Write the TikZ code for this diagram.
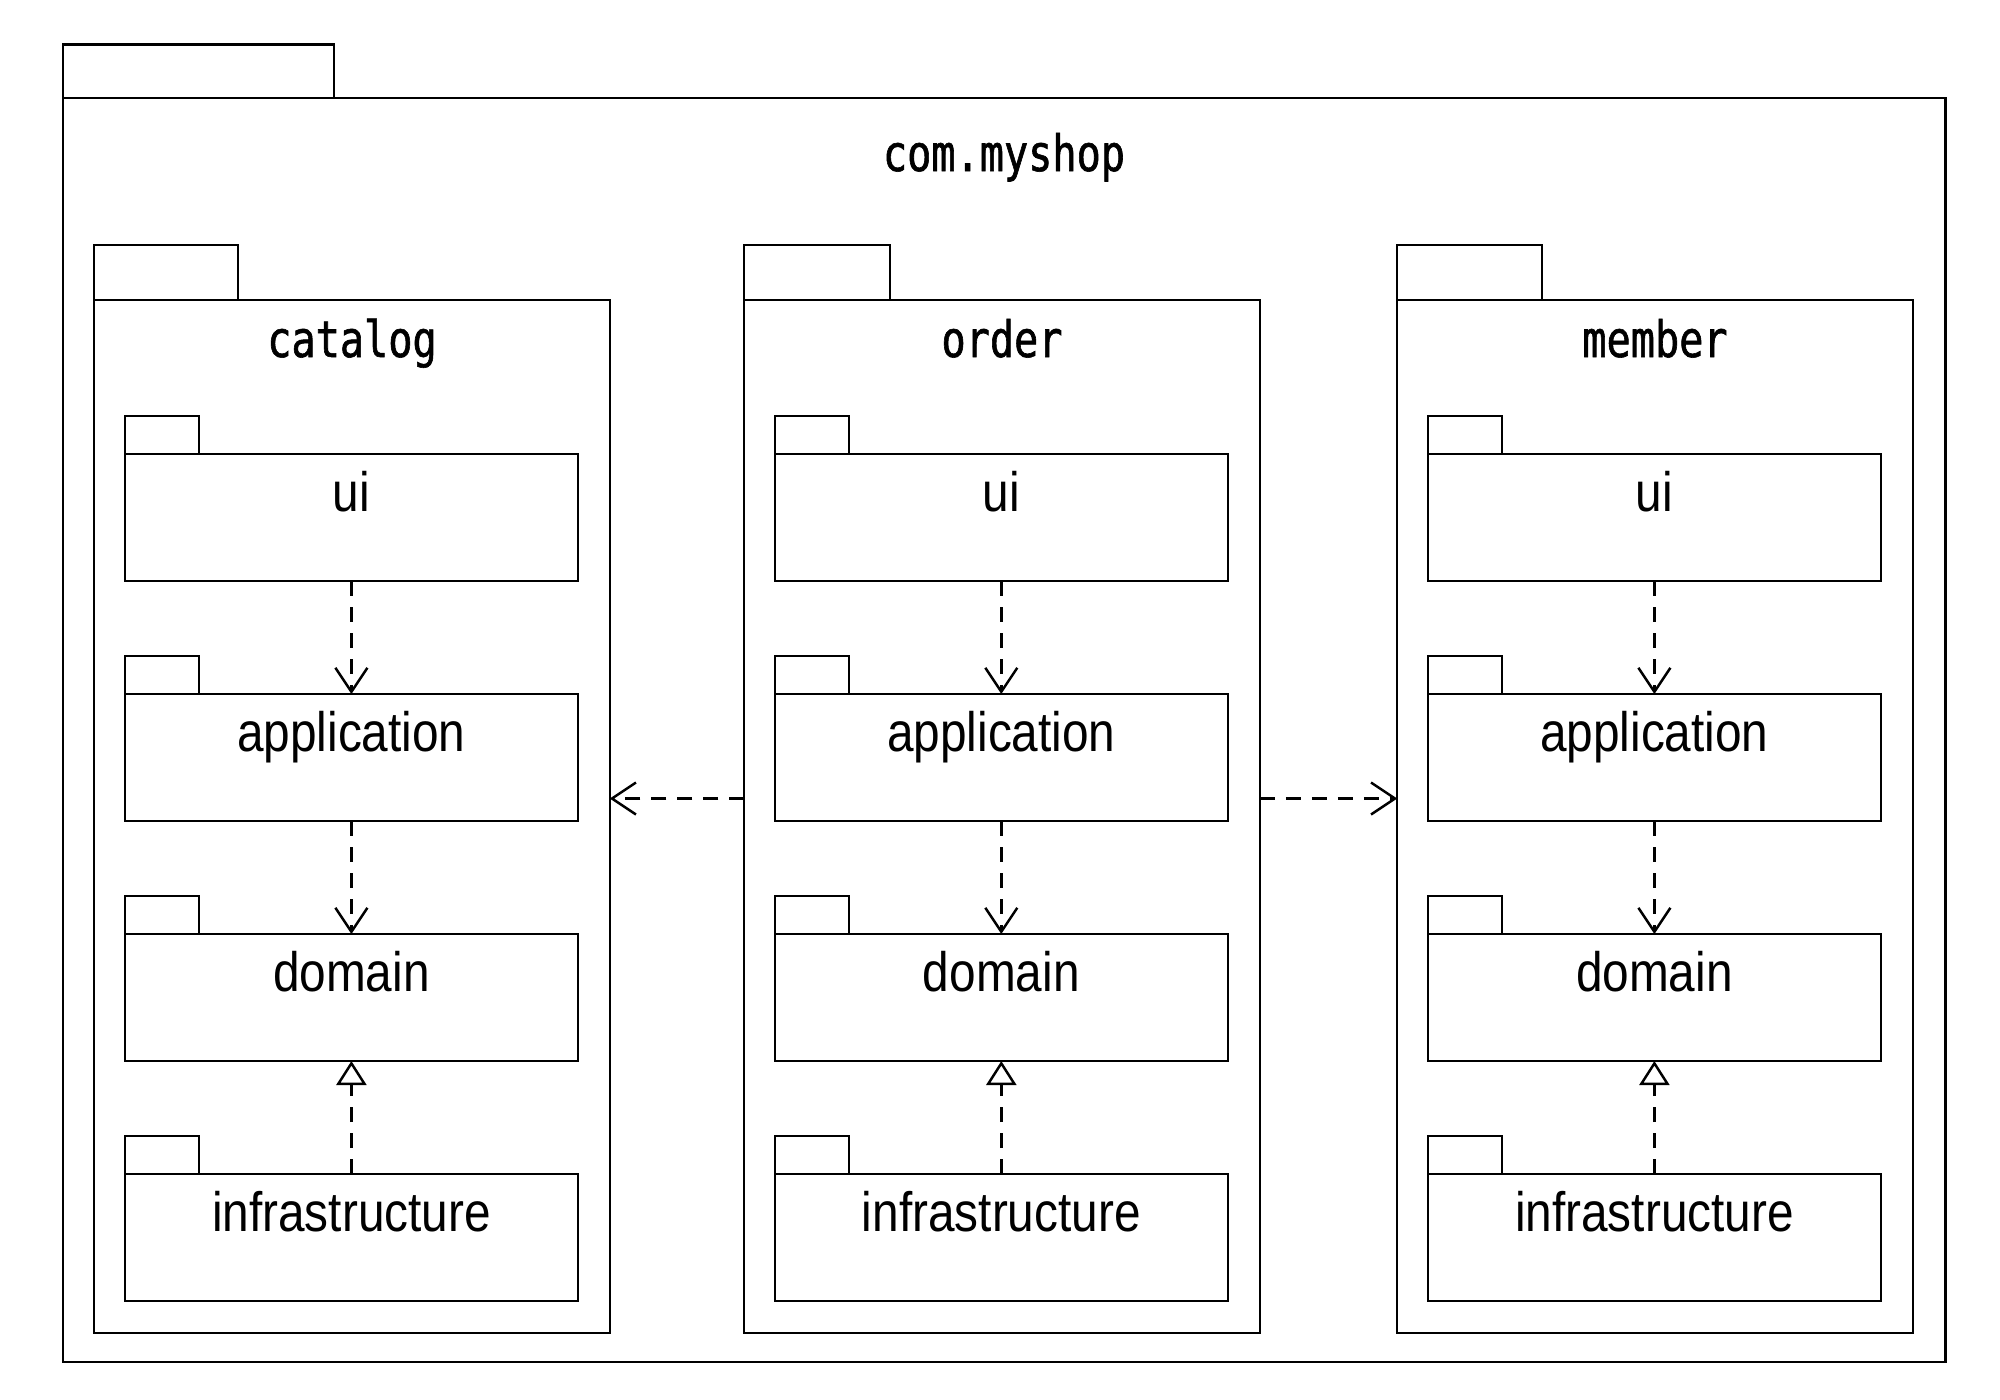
\documentclass[tikz,border=0pt]{standalone}
\usepackage{fontspec}
\usepackage{tikz}
\usetikzlibrary{positioning,arrows.meta}
\newfontfamily\layerfont[FakeStretch=0.86]{Liberation Sans}
\newfontfamily\modfont[FakeStretch=0.8,FakeBold=1.2]{DejaVu Sans Mono}

\begin{document}
\begin{tikzpicture}[
line width=0.7pt,
node distance=1.13cm,
pkg/.style={
draw,
rectangle,
inner sep=0pt,
outer sep=0pt
},
layer/.style={
pkg,
minimum width=4.53cm,
minimum height=1.27cm,
label={[anchor=base,yshift=-0.57cm,inner sep=0pt]north:{\layerfont\fontsize{15.8}{18}\selectfont #1}}
},
module/.style={
pkg,
minimum width=5.155cm,
minimum height=10.33cm,
label={[anchor=base,yshift=-0.57cm,inner sep=0pt]north:{\modfont\fontsize{14.3}{16}\selectfont #1}}
},
tab/.style={draw},
dep/.style={dash pattern=on 1.5mm off 1.1mm,-{Straight Barb[length=2.4mm,width=3.2mm]}},
realize/.style={dash pattern=on 1.5mm off 1.1mm,-{Triangle[open,length=2.4mm,width=3mm]}}
]

\useasboundingbox (0,0) rectangle (20,-13.99);

% outer package
\node[pkg,minimum width=18.825cm,minimum height=12.64cm,
label={[anchor=base,yshift=-0.73cm,inner sep=0pt]north:{\modfont\fontsize{14.3}{16}\selectfont com.myshop}}]
(shop) at (10.04,-7.30) {};
\draw[tab] (shop.north west) rectangle ++(2.715,0.536);

% modules
\node[module=catalog] (catalog) at (3.52,-8.165) {};
\node[module=order] (order) at (10.02,-8.165) {};
\node[module=member] (member) at (16.55,-8.165) {};
\draw[tab] (catalog.north west) rectangle ++(1.44,0.55);
\draw[tab] (order.north west) rectangle ++(1.46,0.55);
\draw[tab] (member.north west) rectangle ++(1.45,0.55);

% layers
\node[layer=ui] (cui) at (3.514,-5.175) {};
\node[layer=application,below=of cui] (capp) {};
\node[layer=domain,below=of capp] (cdom) {};
\node[layer=infrastructure,below=of cdom] (cinf) {};

\node[layer=ui] (oui) at (10.013,-5.175) {};
\node[layer=application,below=of oui] (oapp) {};
\node[layer=domain,below=of oapp] (odom) {};
\node[layer=infrastructure,below=of odom] (oinf) {};

\node[layer=ui] (mui) at (16.544,-5.175) {};
\node[layer=application,below=of mui] (mapp) {};
\node[layer=domain,below=of mapp] (mdom) {};
\node[layer=infrastructure,below=of mdom] (minf) {};

\foreach \n in {cui,capp,cdom,cinf,oui,oapp,odom,oinf,mui,mapp,mdom,minf}
\draw[tab] (\n.north west) rectangle ++(0.74,0.38);

% dependencies
\foreach \p in {c,o,m} {
\draw[dep] (\p ui) -- (\p app);
\draw[dep] (\p app) -- (\p dom);
\draw[realize] (\p inf) -- (\p dom);
}

\draw[dep] ([yshift=1.8mm]order.west) -- ([yshift=1.8mm]catalog.east);
\draw[dep] ([yshift=1.8mm]order.east) -- ([yshift=1.8mm]member.west);

\end{tikzpicture}
\end{document}
